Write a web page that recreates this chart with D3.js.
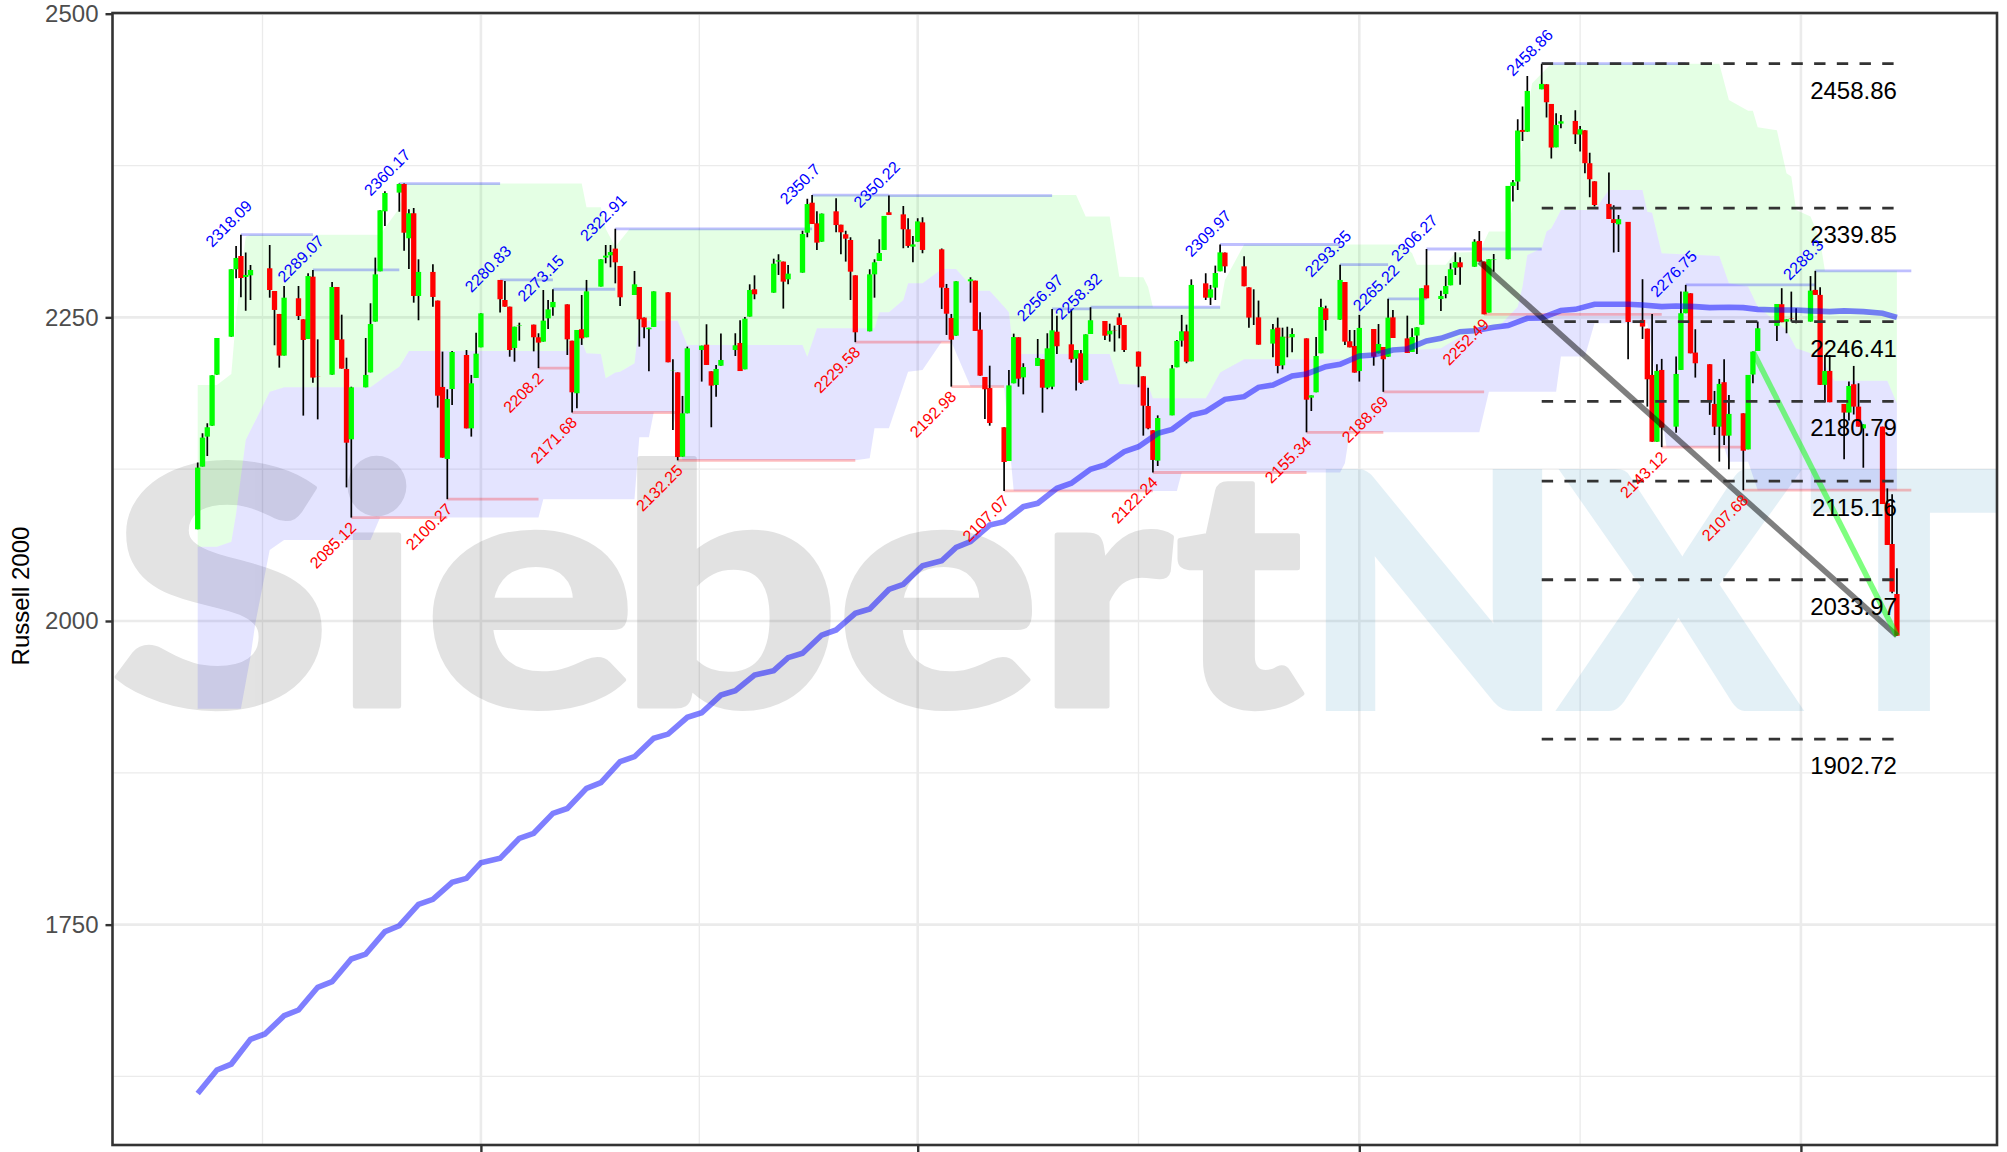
<!DOCTYPE html>
<html><head><meta charset="utf-8">
<script src="https://cdn.jsdelivr.net/npm/d3@7"></script>
<style>html,body{margin:0;padding:0;background:#fff}svg{display:block}text{font-family:"Liberation Sans",Arial,sans-serif}</style>
</head><body><div id="chart"></div>
<script>
const startDate = Date.UTC(2021,1,1);
// candles: calendar days since 2021-02-01 and OHLC
const candleDays = [0,1,2,3,4, 7,8,9,10,11, 15,16,17,18, 21,22,23,24,25, 28,29,30,31,32, 35,36,37,38,39, 42,43,44,45,46, 49,50,51,52,53, 56,57,58,59, 63,64,65,66,67, 70,71,72,73,74, 77,78,79,80,81,
84,85,86,87,88, 91,92,93,94,95, 98,99,100,101,102, 105,106,107,108,109, 112,113,114,115,116, 120,121,122,123, 126,127,128,129,130, 133,134,135,136,137, 140,141,142,143,144, 147,148,149,150,151,
155,156,157,158, 161,162,163,164,165, 168,169,170,171,172, 175,176,177,178,179, 182,183,184,185,186, 189,190,191,192,193, 196,197,198,199,200, 203,204,205,206,207, 210,211,212,213,214,
218,219,220,221, 224,225,226,227,228, 231,232,233,234,235, 238,239,240,241,242, 245,246,247,248,249, 252,253,254,255,256, 259,260,261,262,263, 266,267,268,269,270, 273,274,275,276,277,
280,281,282,283,284, 287,288,289,290,291, 294,295,296,298, 301,302,303,304,305, 308,309,310,311,312, 315,316,317,318,319, 322,323,324,325, 329,330,331,332,333, 336,337,338,339,340, 343,344,345,346,347, 351,352,353,354];
const opens = [2075.5,2127.1,2151.8,2160.8,2202.8, 2234.1,2289.6,2300.5,2283.2,2284.6, 2290.4,2271.7,2252.8,2218.5, 2265.7,2248.4,2232.2,2283.5,2201.2, 2202.8,2275,2231.9,2207.5,2149.6, 2192.4,2204.7,2246.5,2287.9,2337.3, 2352.7,2359.8,2315.1,2335.7,2267.6, 2287.4,2263.8,2192.7,2133.4,2191, 2219,2158.6,2200.1,2225.3, 2280.8,2264.3,2258.8,2224.8,2243.1, 2244,2233.6,2230,2249.2,2258.3, 2260.7,2230.8,2187.5,2240.2,2233.6,
2275.3,2299.2,2301.1,2306.6,2292.3, 2268.4,2275,2249.8,2240.2,2242.1, 2270.6,2206.4,2204.7,2135.3,2171, 2223.1,2227.5,2205.6,2194.3,2210.2, 2223.1,2228.9,2207.2,2250.6,2273.1, 2270.3,2295.9,2295.9,2281.3, 2286.8,2319.7,2344.4,2327.4,2312.3, 2337.3,2326.3,2318.4,2313.7,2284.6, 2238.5,2285.4,2296.4,2305.5,2336.5, 2334.8,2322.5,2308.2,2312.3,2328.2,
2306,2274.2,2249.5,2234.9, 2279.7,2280.2,2239.9,2200.9,2191.8, 2159.5,2131.7,2195.7,2233.6,2200.6, 2210,2215.5,2192.1,2192.9,2238.2, 2227.8,2216,2220.4,2198.2,2236.3, 2247,2236,2239.5,2250,2243.7, 2221.8,2201.5,2177,2157,2132, 2169.3,2208.9,2230.8,2238.5,2213.8, 2278,2266.2,2274.5,2287.9,2303.3,
2292,2274.7,2262,2250, 2228.4,2241.5,2210.5,2233.9,2233.6, 2232.7,2183.9,2188.3,2220.4,2257.4, 2248.1,2279.1,2230.3,2226.4,2205.8, 2240.4,2220.4,2225.6,2217.6,2250, 2232.7,2221.5,2235,2244,2276.4, 2265.1,2269.2,2276.4,2290.9,2295.3, 2291.7,2312.9,2295.9,2253.9,2297.2, 2297.9,2358.2,2361.8,2404.3,2402.9,
2437.8,2441.9,2425.7,2390,2409.5, 2411.7,2400.5,2404,2376.9,2362, 2343.4,2330.8,2326.6,2328.6, 2247.9,2240.7,2202.6,2147.6,2206.7, 2160,2206.7,2253.4,2269.8,2221, 2211.4,2178.7,2160,2196.6,2152.6, 2171,2141.3,2202.9,2222.3, 2243,2260.8,2246.5,2249.3,2246, 2246.5,2272.6,2268.5,2194.4,2205.9, 2178.7,2171.6,2194.9,2176.5,2158.6, 2160,2096.9,2063.4,2022.2];
const highs = [2130.4,2154.5,2162.8,2202.3,2233, 2289.6,2308.8,2318.09,2303.3,2293.1, 2309.6,2271.7,2252.8,2275.8, 2275.8,2248.4,2286.3,2289.07,2231.9, 2279.1,2275,2252.2,2216.8,2192.9, 2233,2261.6,2299.2,2338.1,2353.8, 2360.17,2360.17,2338.9,2340,2297.8, 2293.7,2263.8,2221.8,2190.8,2222.3, 2223.1,2202.6,2237.4,2253.3, 2280.83,2279.9,2258.8,2242.3,2245.6, 2244,2236.9,2272.5,2264.3,2273.15, 2260.7,2230.8,2239.6,2268.4,2280.8,
2297.8,2309.6,2309.6,2322.91,2292.3, 2288.2,2275,2249.8,2241.5,2271.4, 2270.6,2215.5,2204.7,2185.3,2225.9, 2226.7,2244.3,2205.6,2210.8,2236.6, 2236.9,2247.6,2250.3,2277.2,2284.6, 2298.3,2301.9,2295.9,2293.1, 2321.4,2347.7,2350.7,2337.3,2335.4, 2348,2326.3,2321.4,2315.9,2284.6, 2289.6,2297.8,2314.3,2333.5,2350.22, 2341.7,2331.5,2317,2331.5,2332.4,
2306.6,2277.5,2252.8,2279.7, 2283,2280.2,2254.2,2200.9,2210.2, 2159.5,2206.7,2236.6,2233.6,2212.2, 2232.2,2215.5,2236.9,2256.97,2251.4, 2256.6,2223.1,2223.1,2236,2258.32, 2247,2244.8,2243.2,2253.3,2243.7, 2221.8,2201.5,2192.1,2157,2169.3, 2210.8,2231.4,2252,2244,2281.3, 2286.3,2276.7,2292.6,2309.97,2303.3,
2300.3,2274.7,2273.1,2263.8, 2244.5,2249.8,2241.5,2242.3,2241, 2232.7,2185.8,2233.8,2265.4,2259.6, 2293.35,2279.1,2239.6,2239.6,2252, 2240.4,2244.5,2225.6,2265.22,2256.1, 2251.4,2241,2241.8,2273.9,2306.27, 2272,2284,2294.5,2303.5,2299.4, 2314.3,2321.1,2295.9,2297.8,2302.2, 2358.2,2363.1,2413.1,2423.5,2448.8,
2458.86,2441.9,2425.7,2418,2416.7, 2420.5,2407.6,2404,2385.6,2362, 2369.2,2342.3,2334.3,2328.6, 2281.4,2240.7,2252.8,2211.4,2215.8, 2217.7,2271.2,2276.75,2269.8,2240.2, 2211.4,2189.4,2199.3,2215.5,2186.1, 2171,2202.6,2221.8,2246.5, 2261,2274,2248.4,2271.2,2257.5, 2284,2288.3,2274.8,2219,2219, 2178.7,2197.1,2210,2195.7,2161.9, 2160,2109.2,2104.3,2043.4];
const lows = [2075.5,2127.1,2135.9,2160.8,2202.8, 2234.1,2282.1,2266.5,2255.5,2264.3, 2266.2,2227,2208.6,2218.5, 2247.8,2169.1,2232.2,2196.2,2166, 2202.8,2231.4,2207.8,2110,2085.12, 2192.4,2204.7,2246.5,2287.9,2325.2, 2337,2304.9,2289.8,2262.1,2247.6, 2258.8,2175.7,2134.5,2100.27,2177.9, 2158.6,2151.8,2200.1,2225.3, 2253.9,2258.8,2217.6,2213.5,2230.8, 2222,2208.2,2230,2240.4,2251.4, 2219,2171.68,2175.1,2227.3,2233.6,
2275.3,2294.5,2291.2,2278,2259.4, 2268.4,2225.9,2232.7,2205.6,2242.1, 2213,2157.3,2132.25,2135.3,2171, 2197.1,2210.8,2159.5,2184.7,2210.2, 2218.2,2205.8,2207.2,2250.6,2264.9, 2270.3,2284.9,2257.2,2277.2, 2286.8,2315.9,2326.9,2305.5,2312.3, 2320,2301.9,2295.9,2264.3,2229.58, 2238.5,2266.2,2296.4,2305.5,2334.3, 2306.8,2307.4,2295.3,2312.3,2302.7,
2256.9,2235.5,2192.98,2234.9, 2262.1,2238.8,2202,2166.3,2160.8, 2107.07,2131.7,2195.7,2192.9,2186.6, 2210,2171.5,2190.8,2190.8,2219.8, 2212.7,2189.7,2195.1,2198.2,2236.3, 2231.4,2230,2221.8,2232.7,2221.5, 2192.4,2152.6,2157.8,2122.24,2127.6, 2169.3,2208.9,2225.9,2212.2,2213.8, 2264.3,2260.2,2264.3,2287.9,2286.8,
2275.6,2241.5,2243.7,2227.5, 2217.1,2203.9,2207.2,2217.1,2221.2, 2155.34,2172.9,2188.3,2220.4,2239.1, 2248.1,2227.3,2225.3,2204.5,2197.1, 2210.2,2220.4,2188.69,2217.6,2233, 2220.7,2221.5,2219.8,2244,2265.7, 2255.2,2265.7,2276.4,2284.9,2276.9, 2291.7,2295.9,2252.49,2253.9,2287.6, 2297.9,2345.3,2354.9,2395.2,2402.9,
2437.8,2414.5,2380.7,2390,2405.7, 2392.8,2386.5,2368.6,2348.9,2341.2, 2331,2303.3,2303.9,2215.5, 2232.2,2176.5,2147.6,2147.6,2143.12, 2155,2206.7,2253.4,2220.4,2200.4, 2169.7,2153.1,2131.2,2144.9,2124.9, 2107.68,2141.3,2195.7,2222.3, 2230.6,2246,2236.9,2246.5,2245.1, 2246.5,2268.5,2194.4,2180.1,2180.1, 2133.1,2165,2170,2160,2126.2, 2096.3,2062.6,2022.8,1987.9];
const closes = [2126.3,2151,2159.5,2202.3,2233, 2289.6,2298.9,2282.4,2284.9,2289, 2272.5,2256.1,2218.5,2266.2, 2251.1,2231.4,2284,2200.4,2201, 2275,2231.4,2207.8,2146.8,2192.4, 2202.6,2244.5,2285.4,2338.1,2352.4, 2359.8,2319.7,2335.7,2267.6,2287.4, 2266.8,2185.5,2134.5,2182.8,2221.5, 2158.6,2195.7,2220.1,2253.3, 2264.9,2258.8,2223.1,2242.3,2243.5, 2233.6,2229.2,2247.3,2256.6,2262.7, 2231.9,2188.3,2239.6,2232.7,2271.4,
2297.8,2300.8,2303.8,2295.3,2266.5, 2277.2,2248.4,2241.8,2241.5,2271.4, 2213,2206.6,2135,2171,2224.5, 2226.7,2210.8,2193.8,2207.5,2214.9, 2227,2205.8,2248.9,2272.5,2269, 2294.2,2297,2279.4,2286, 2318.6,2343.3,2326.9,2311.5,2335.4, 2326,2320,2314.8,2287.6,2237.7, 2285.4,2295.3,2303,2333.5,2334.3, 2322.5,2308.8,2310.1,2329,2305.5,
2274.5,2253,2231.6,2279.7, 2281.3,2238.8,2202,2190.8,2163, 2130.9,2194,2233.8,2199.5,2209.1, 2216.6,2192.1,2224.5,2239.3,2226.2, 2215.5,2223.1,2196.2,2236,2247.6, 2234.9,2239,2239.3,2243.7,2223.1, 2209.4,2177.3,2158.6,2132.6,2167.1, 2208,2230.6,2238.5,2213.5,2276.7, 2266.2,2273.1,2286.5,2303.5,2292,
2275.6,2249.8,2262,2227.5, 2240.2,2210,2234.1,2233.6,2236.3, 2182.2,2185.8,2218.2,2258.5,2247.8, 2280.8,2230,2225.3,2204.5,2241.3, 2217.6,2228.1,2215.5,2249.8,2233, 2220.7,2233.8,2241.8,2273.9,2265.7, 2267.6,2275.8,2289.6,2295.6,2291.2, 2312.3,2295.9,2252.49,2297.8,2297.6, 2358.2,2361.2,2403.8,2402.7,2436.4,
2442.2,2427.1,2389.8,2408.4,2411.4, 2400.7,2404.8,2376.9,2363.7,2342.5, 2331,2327.7,2330.8,2246.2, 2242.4,2199,2147.6,2205.9,2159.2, 2203.4,2253.4,2271.2,2220.4,2212.2, 2181.4,2160,2195.2,2152.6,2170.5, 2140.2,2202.6,2221.8,2241, 2261,2246,2248.4,2249,2245.8, 2272,2268.5,2194.4,2205.9,2180.1, 2171.6,2193.5,2176.5,2160,2161.9, 2096.3,2062.6,2024.1,1987.9];

// 200-day average line
const smaDays = [0,4,7,11,14,18,21,25,28,32,35,39,42,46,49,53,56,59,63,67,70,74,77,81,84,88,91,95,98,102,105,109,112,116,120,123,126,130,133,137,140,144,147,151,155,158,161,165,168,172,175,179,182,186,189,193,196,200,203,207,210,214,218,221,224,228,231,235,238,242,245,249,252,256,259,263,266,270,273,277,280,284,287,291,294,298,301,305,308,312,315,319,322,325,329,333,336,340,343,347,351,354];
const smaVals = [1611,1630.3,1635.2,1655.6,1660,1675,1679.7,1698.4,1703,1721.7,1725.8,1744.2,1749.1,1766.7,1770.8,1784.8,1788.1,1801,1804.6,1821,1825.2,1841.6,1845.6,1862.2,1866.9,1884.2,1888.3,1903.4,1906.9,1920.7,1924.5,1939,1942.6,1955.5,1959.1,1969.8,1973.4,1988.4,1992.6,2006.3,2009.9,2026,2030.2,2045.5,2049.6,2060.6,2065.3,2079,2081.8,2094.1,2096.9,2109.2,2113.4,2124.9,2128.4,2139.4,2143.5,2154.5,2157.8,2169.6,2172.4,2182.5,2184.7,2192.4,2194.3,2201.7,2203.4,2209.4,2211.3,2218.2,2219,2223.1,2224,2230.5,2232.7,2238.2,2239,2241.8,2243.2,2249.2,2249.5,2255.6,2256.6,2260.8,2260.8,2260.8,2260.2,2258.8,2259.4,2258.8,2258,2258.3,2258,2256.6,2256.1,2256.1,2255.3,2254.7,2255.3,2254.7,2253.4,2250];

// channel boundaries
const upperDays = [0,4,7,8,10,11,38,42,43,80,81,84,85,87,90,127,128,183,185,190,192,197,198,199,213,214,218,251,253,254,260,262,267,269,273,278,282,317,319,323,324,325,329,331,332,333,336,338,339,354];
const upperVals = [2194.3,2194.3,2203.4,2250.6,2316.4,2318.09,2318.09,2339.8,2360.17,2360.17,2340.6,2340.6,2323,2308,2322.91,2322.91,2350.7,2350.7,2333,2333,2283.5,2283,2275,2258.32,2258.32,2280.8,2309.97,2309.97,2302.7,2293.35,2293.35,2303.3,2304,2320.6,2320.6,2442.7,2458.86,2458.86,2429,2420,2420,2406.5,2404,2368.6,2366,2338.4,2333,2313.7,2288.3,2288.3];
const midDays = [0,4,7,8,10,15,18,36,39,42,44,77,78,80,81,84,85,87,88,91,92,100,101,102,126,127,129,141,142,144,147,148,151,155,158,162,165,169,170,190,192,198,199,210,211,213,218,241,253,259,263,271,275,276,277,280,281,282,284,291,294,301,302,303,305,317,319,323,325,331,333,338,341,352,354];
const midVals = [2061.2,2061.2,2065.3,2088.6,2149,2188.8,2192.4,2192.4,2201.2,2209.4,2222.3,2222.3,2230,2230,2220.4,2219.8,2199.8,2204.5,2205.3,2212.2,2247.3,2247.3,2236.9,2227.3,2227.3,2217.6,2241,2241,2254.2,2254.2,2264.3,2278,2278,2289.8,2289.8,2272,2272,2254.2,2219.8,2219.8,2195.1,2194.3,2183.3,2183.3,2190.2,2204.5,2215.5,2215.5,2223.1,2224.5,2234.1,2242.3,2258.8,2275.3,2301.4,2306.9,2320.6,2323.3,2338.4,2338.4,2354.9,2354.9,2337,2336.2,2302.8,2300.6,2278,2275.3,2258.8,2239.6,2224.5,2217.7,2197.9,2197.9,2179.3];
const lowerDays = [0,9,11,12,15,18,36,38,71,72,91,92,94,95,99,101,137,140,141,144,148,151,155,157,161,168,170,204,205,238,239,240,267,269,283,284,289,291,302,306,318,319,323,325,354];
const lowerVals = [1927.8,1927.8,1970.6,1998,2058.5,2066.7,2066.7,2085.12,2085.12,2100.27,2100.27,2151.2,2151.2,2171.68,2171.68,2132.25,2132.25,2134,2158.6,2158.6,2205.3,2206.7,2230,2230,2192.98,2192.98,2107.07,2107.07,2122.24,2122.24,2129.8,2155.34,2155.34,2188.69,2188.69,2217.7,2217.7,2245.1,2245.1,2143.12,2143.12,2131.2,2131.2,2107.68,2107.68];

// swing highs and lows
const resDays = [9,24,42,63,74,87,128,144,178,186,213,238,248,256,280,310,337];
const resEnds = [24,42,63,74,87,128,144,178,186,213,238,248,256,280,310,337,357];
const resVals = [2318.09,2289.07,2360.17,2280.83,2273.15,2322.91,2350.7,2350.22,2256.97,2258.32,2309.97,2293.35,2265.22,2306.27,2458.86,2276.75,2288.3];
const supDays = [32,52,71,78,100,137,157,168,199,231,247,268,305,322];
const supEnds = [52,71,78,100,137,157,168,199,231,247,268,305,322,357];
const supVals = [2085.12,2100.27,2208.2,2171.68,2132.25,2229.58,2192.98,2107.07,2122.24,2155.34,2188.69,2252.49,2143.12,2107.68];

// retracement levels and trend lines
const fibLevels = [2458.86,2339.85,2246.41,2180.79,2115.16,2033.97,1902.72];
const fibFromDay = 280, fibToDay = 354;
const greyTrendDays = [267,354], greyTrendVals = [2295.9,1987.9];
const greenTrendDays = [324,354], greenTrendVals = [2221.8,1987.9];

const yTickValues = [1750,2000,2250,2500];
const yMinorValues = [1625,1875,2125,2375];
const xMajorDays = [59,150,242,334];
const xMinorDays = [13.5,104.5,196,288];
const axisTitle = "Russell 2000";
const watermarkDark = ["S","i","e","b","e","r","t"];
const watermarkDarkX = [110,336,424,618,836,1037,1175];
const watermarkDarkLen = [222,82,212,222,204,135,128];
const watermarkLight = ["N","X","T"];
const watermarkLightX = [1302,1560,1808];
const watermarkLightLen = [264,240,192];

const W=2007,H=1152, L=112.5,R=1997,T=13,B=1145;
const dayT = d => new Date(startDate + d*864e5);
const x = d3.scaleUtc().domain([dayT(-17.75),dayT(374.85)]).range([L,R]);
const y = d3.scaleLinear().domain([1568.57,2500.58]).range([B,T]);
const svg = d3.select("#chart").append("svg").attr("width",W).attr("height",H);
svg.append("clipPath").attr("id","p").append("rect").attr("x",L).attr("y",T).attr("width",R-L).attr("height",B-T);
const g = svg.append("g").attr("clip-path","url(#p)");

// grid
const gridG = g.append("g");
yMinorValues.forEach(v=>gridG.append("line").attr("x1",L).attr("x2",R).attr("y1",y(v)).attr("y2",y(v)).attr("stroke","#ebebeb").attr("stroke-width",1.3));
xMinorDays.forEach(d=>gridG.append("line").attr("y1",T).attr("y2",B).attr("x1",x(dayT(d))).attr("x2",x(dayT(d))).attr("stroke","#ebebeb").attr("stroke-width",1.3));
yTickValues.forEach(v=>gridG.append("line").attr("x1",L).attr("x2",R).attr("y1",y(v)).attr("y2",y(v)).attr("stroke","#ebebeb").attr("stroke-width",2.6));
xMajorDays.forEach(d=>gridG.append("line").attr("y1",T).attr("y2",B).attr("x1",x(dayT(d))).attr("x2",x(dayT(d))).attr("stroke","#ebebeb").attr("stroke-width",2.6));

// watermark: solid letters in a group with opacity so that stroke and fill do not double up
const wmDark = g.append("g").attr("opacity",0.11);
watermarkDark.forEach((c,i)=>wmDark.append("text").attr("x",watermarkDarkX[i]).attr("y",706).attr("textLength",watermarkDarkLen[i]).attr("lengthAdjust","spacingAndGlyphs")
  .style("font-family","Lato, 'Liberation Sans', sans-serif").attr("font-weight",900).attr("font-size",332).attr("fill","#000").attr("stroke","#000").attr("stroke-width",5).attr("stroke-linejoin","round").text(c));
const wmLight = g.append("g").attr("opacity",0.105);
watermarkLight.forEach((c,i)=>wmLight.append("text").attr("x",watermarkLightX[i]).attr("y",709).attr("textLength",watermarkLightLen[i]).attr("lengthAdjust","spacingAndGlyphs")
  .style("font-family","Lato, 'Liberation Sans', sans-serif").attr("font-weight",900).attr("font-size",328).attr("fill","rgb(0,120,180)").attr("stroke","rgb(0,120,180)").attr("stroke-width",4).text(c));

// bands: merge boundary points by day
const interp = (ds,vs) => d3.scaleLinear().domain(ds).range(vs);
const upperAt = interp(upperDays,upperVals), midAt = interp(midDays,midVals), lowerAt = interp(lowerDays,lowerVals);
const greenDays = Array.from(new Set(upperDays.concat(midDays))).sort(d3.ascending);
const blueDays = Array.from(new Set(midDays.concat(lowerDays))).sort(d3.ascending);
const areaGreen = d3.area().x(d=>x(dayT(d))).y0(d=>y(midAt(d))).y1(d=>y(upperAt(d)));
const areaBlue = d3.area().x(d=>x(dayT(d))).y0(d=>y(lowerAt(d))).y1(d=>y(midAt(d)));
g.append("path").attr("d",areaGreen(greenDays)).attr("fill","rgba(0,255,0,0.105)");
g.append("path").attr("d",areaBlue(blueDays)).attr("fill","rgba(0,0,255,0.105)");

// swing segments
g.selectAll(".res").data(resDays).join("line").attr("x1",d=>x(dayT(d))).attr("x2",(d,i)=>x(dayT(resEnds[i]))).attr("y1",(d,i)=>y(resVals[i])).attr("y2",(d,i)=>y(resVals[i])).attr("stroke","rgba(0,0,255,0.25)").attr("stroke-width",2.8);
g.selectAll(".sup").data(supDays).join("line").attr("x1",d=>x(dayT(d))).attr("x2",(d,i)=>x(dayT(supEnds[i]))).attr("y1",(d,i)=>y(supVals[i])).attr("y2",(d,i)=>y(supVals[i])).attr("stroke","rgba(255,0,0,0.25)").attr("stroke-width",2.8);

// candles
const cIdx = d3.range(candleDays.length);
g.append("g").selectAll("line").data(cIdx).join("line")
 .attr("x1",i=>x(dayT(candleDays[i]))).attr("x2",i=>x(dayT(candleDays[i])))
 .attr("y1",i=>y(highs[i])).attr("y2",i=>y(lows[i])).attr("stroke","#000").attr("stroke-width",1.7);
g.append("g").selectAll("rect").data(cIdx).join("rect")
 .attr("x",i=>x(dayT(candleDays[i]))-2.65).attr("width",5.3)
 .attr("y",i=>y(Math.max(opens[i],closes[i])))
 .attr("height",i=>Math.abs(y(opens[i])-y(closes[i])))
 .attr("fill",i=>closes[i]>=opens[i]?"#00ff00":"#ff0000");

// average line
const lineGen = d3.line().x((d,i)=>x(dayT(d))).y((d,i)=>y(smaVals[i]));
g.append("path").attr("d",lineGen(smaDays)).attr("fill","none").attr("stroke","rgba(0,0,255,0.5)").attr("stroke-width",5.6);

// trend lines
const tl = (ds,vs,col)=>g.append("line").attr("x1",x(dayT(ds[0]))).attr("x2",x(dayT(ds[1]))).attr("y1",y(vs[0])).attr("y2",y(vs[1])).attr("stroke",col).attr("stroke-width",5.6);
tl(greyTrendDays,greyTrendVals,"rgba(0,0,0,0.5)");
tl(greenTrendDays,greenTrendVals,"rgba(0,255,0,0.5)");

// fib levels
fibLevels.forEach(v=>{
  g.append("line").attr("x1",x(dayT(fibFromDay))).attr("x2",x(dayT(fibToDay))).attr("y1",y(v)).attr("y2",y(v)).attr("stroke","#333").attr("stroke-width",2.8).attr("stroke-dasharray","11.4 11.3");
  g.append("text").attr("x",x(dayT(fibToDay))).attr("y",y(v)+35).attr("text-anchor","end").attr("font-size",24).attr("fill","#000").text(v.toFixed(2));
});

// swing labels
resDays.forEach((d,i)=>g.append("text").attr("transform",`translate(${x(dayT(d))-8.2},${y(resVals[i])-7.2}) rotate(-45)`).attr("text-anchor","middle").attr("font-size",16).attr("fill","#0000ff").text(String(resVals[i])));
supDays.forEach((d,i)=>g.append("text").attr("transform",`translate(${x(dayT(d))+6},${y(supVals[i])+11}) rotate(-45)`).attr("text-anchor","end").attr("font-size",16).attr("fill","#ff0000").text(String(supVals[i])));

// panel + axes
svg.append("rect").attr("x",L).attr("y",T).attr("width",R-L).attr("height",B-T).attr("fill","none").attr("stroke","#333").attr("stroke-width",2.6);
const yAxis = d3.axisLeft(y).tickValues(yTickValues).tickSize(7).tickPadding(7).tickFormat(d3.format("d"));
const ga = svg.append("g").attr("transform",`translate(${L},0)`).call(yAxis);
ga.select(".domain").remove();
ga.selectAll("line").attr("stroke","#333").attr("stroke-width",2.4);
ga.selectAll("text").attr("font-size",24).attr("fill","#4d4d4d").attr("font-family",'"Liberation Sans",Arial,sans-serif');
const xAxis = d3.axisBottom(x).tickValues(xMajorDays.map(dayT)).tickSize(7).tickFormat("");
const gx = svg.append("g").attr("transform",`translate(0,${B})`).call(xAxis);
gx.select(".domain").remove();
gx.selectAll("line").attr("stroke","#333").attr("stroke-width",2.4);
svg.append("text").attr("transform",`translate(29,596) rotate(-90)`).attr("text-anchor","middle").attr("font-size",24).attr("fill","#000").text(axisTitle);
</script></body></html>
